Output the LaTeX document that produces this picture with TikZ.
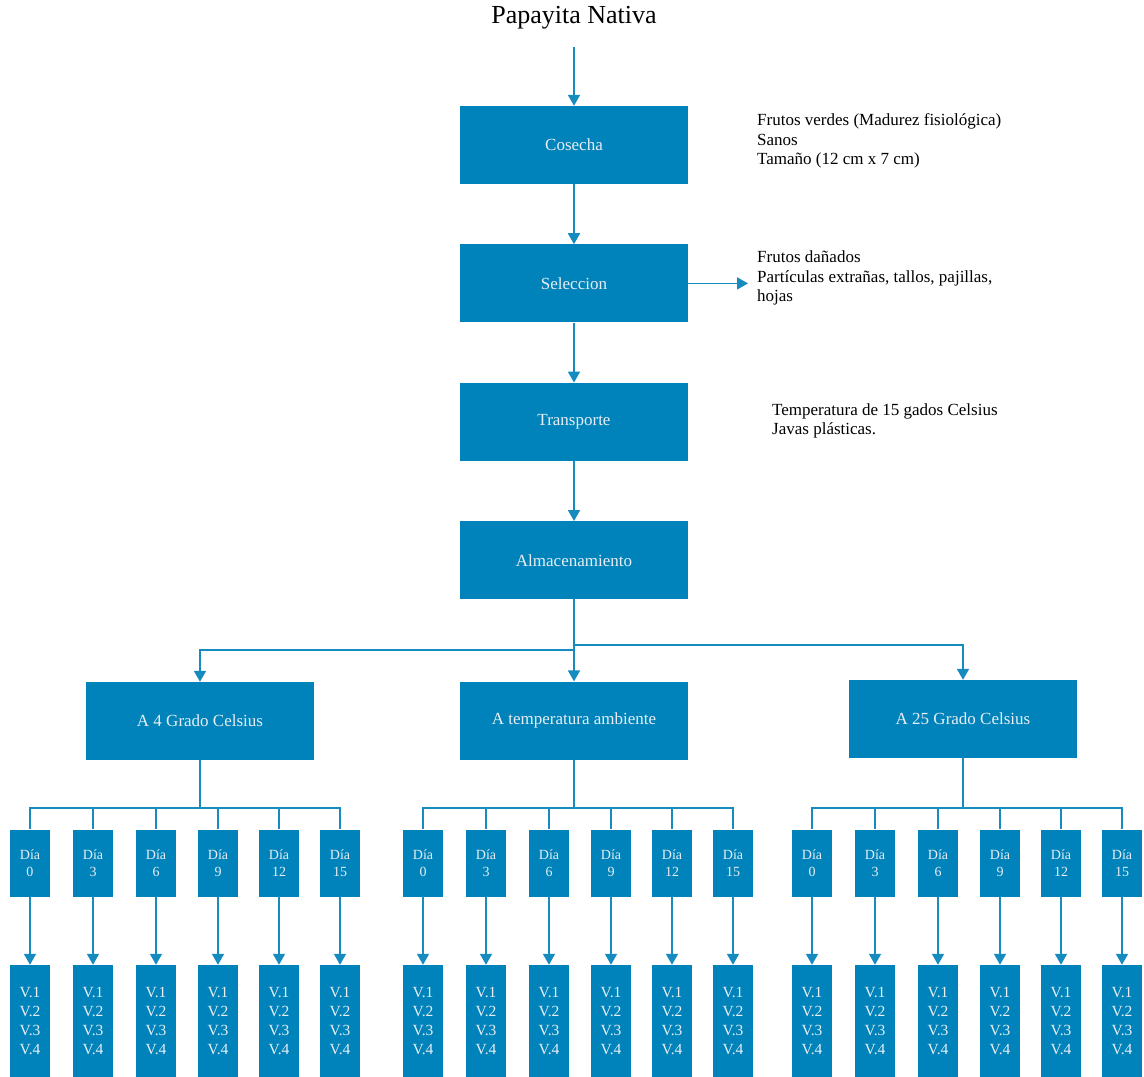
\documentclass[tikz,border=0pt]{standalone}
\usepackage{fontspec}
\setmainfont{Liberation Serif}
\usetikzlibrary{positioning,arrows.meta}
\definecolor{papaya}{RGB}{0,131,186}
\definecolor{lineblue}{RGB}{22,139,192}
\definecolor{paletext}{RGB}{232,238,243}

\begin{document}
\begin{tikzpicture}[
x=1pt,y=-1pt,
stage/.style={
  fill=papaya,
  text=paletext,
  minimum width=228pt,
  minimum height=78pt,
  inner sep=0pt,
  font=\fontsize{17}{20}\selectfont
},
daybox/.style={
  fill=papaya,
  text=paletext,
  minimum width=40pt,
  minimum height=67pt,
  inner sep=0pt,
  align=center,
  font=\fontsize{14}{17}\selectfont
},
varbox/.style={
  fill=papaya,
  text=paletext,
  minimum width=40pt,
  minimum height=112pt,
  inner sep=0pt,
  align=center,
  font=\fontsize{15.5}{19}\selectfont
},
note/.style={
  align=left,
  inner sep=0pt,
  anchor=west,
  font=\fontsize{17}{19.5}\selectfont
},
flow/.style={
  draw=lineblue,
  line width=1.8pt,
  -{Triangle[length=11pt,width=12pt]}
},
link/.style={
  draw=lineblue,
  line width=1.8pt
},
node distance=60pt
]
\useasboundingbox (0,0) rectangle (1144,1077);

\node[font=\fontsize{26}{30}\selectfont] (title) at (574,18) {Papayita Nativa};
\node[stage] (cosecha) at (574,145) {Cosecha};
\node[stage,below=of cosecha] (seleccion) {Seleccion};
\node[stage,below=of seleccion] (transporte) {Transporte};
\node[stage,below=of transporte] (almacen) {Almacenamiento};

\node[stage,below=82pt of almacen] (ambiente) {A temperatura ambiente};
\node[stage] at (200,721) (cuatro) {A 4 Grado Celsius};
\node[stage] at (963,719) (veinticinco) {A 25 Grado Celsius};

% notas al lado
\node[note] at (757,141) (cosechanota)
  {Frutos verdes (Madurez fisiológica)\\Sanos\\Tamaño (12 cm x 7 cm)};
\node[note,inner xsep=9pt] at (748,278) (seleccionnota)
  {Frutos dañados\\Partículas extrañas, tallos, pajillas,\\hojas};
\node[note] at (772,421) (transportenota)
  {Temperatura de 15 gados Celsius\\Javas plásticas.};

\draw[flow,shorten <=14pt] (title.south) -- (cosecha);
\draw[flow] (cosecha) -- (seleccion);
\draw[flow] (seleccion) -- (transporte);
\draw[flow] (transporte) -- (almacen);
\draw[flow] (seleccion.east) -- (seleccion.east -| seleccionnota.west);

% ramas
\coordinate (busleft) at (0,650);
\coordinate (busright) at (0,645);
\draw[flow] (almacen.south) -- (almacen.south |- busleft) -| (cuatro.north);
\draw[flow] (almacen.south) -- (almacen.south |- busright) -| (veinticinco.north);
\draw[flow] (almacen) -- (ambiente);

% dias y variables
\coordinate (busdias) at (0,808);
\foreach \grupo/\gx in {cuatro/30,ambiente/423,veinticinco/812}{
  \foreach \dia/\dx [count=\i] in {0/0,3/63,6/126,9/188,12/249,15/310}{
    \node[daybox] at (\gx+\dx,863) (\grupo-d\i) {Día\\\dia};
    \node[varbox] at (\gx+\dx,1021) (\grupo-v\i) {V.1\\V.2\\V.3\\V.4};
    \draw[link] (\grupo.south) -- (\grupo.south |- busdias) -| (\grupo-d\i.north);
    \draw[flow] (\grupo-d\i) -- (\grupo-v\i);
  }
}
\end{tikzpicture}
\end{document}
